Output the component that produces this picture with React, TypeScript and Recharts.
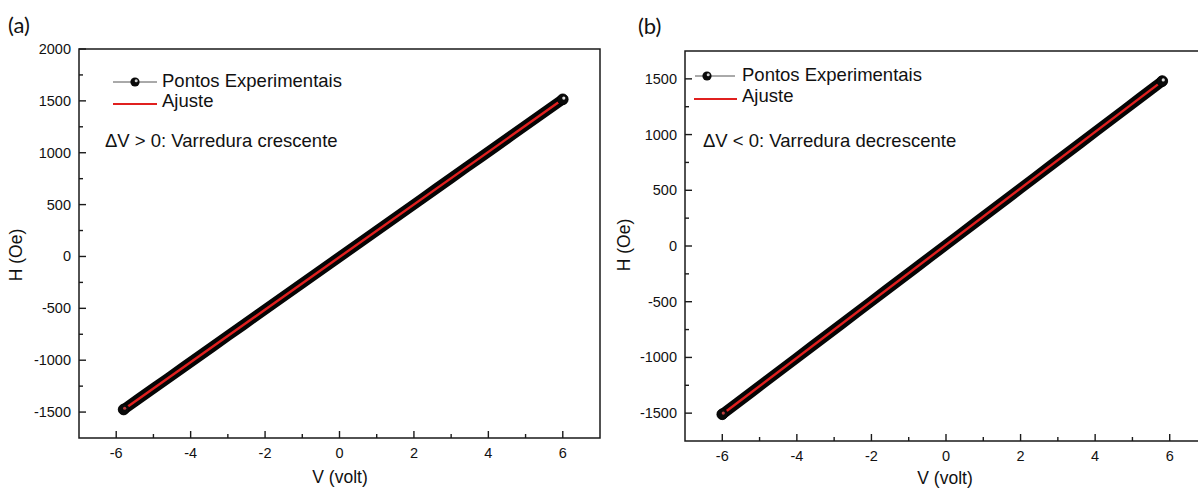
import React from 'react';
import { LineChart, Line, XAxis, YAxis, ReferenceArea } from 'recharts';

// (a) increasing sweep, (b) decreasing sweep
const voltsA = [-5.8, -5.4, -5.0, -4.6, -4.2, -3.8, -3.4, -3.0, -2.6, -2.2, -1.8, -1.4, -1.0, -0.6, -0.2, 0.2, 0.6, 1.0, 1.4, 1.8, 2.2, 2.6, 3.0, 3.4, 3.8, 4.2, 4.6, 5.0, 5.4, 5.8, 6.0];
const fieldA = [-1475, -1373, -1272, -1171, -1069, -968, -867, -765, -664, -562, -461, -360, -258, -157, -56, 46, 147, 248, 350, 451, 552, 654, 755, 857, 958, 1059, 1161, 1262, 1363, 1465, 1515];
const fitVoltsA = [-5.8, 6.0];
const fitFieldA = [-1475, 1515];

const voltsB = [-6.0, -5.6, -5.2, -4.8, -4.4, -4.0, -3.6, -3.2, -2.8, -2.4, -2.0, -1.6, -1.2, -0.8, -0.4, 0.0, 0.4, 0.8, 1.2, 1.6, 2.0, 2.4, 2.8, 3.2, 3.6, 4.0, 4.4, 4.8, 5.2, 5.6, 5.8];
const fieldB = [-1510, -1409, -1308, -1206, -1105, -1004, -902, -801, -700, -598, -497, -395, -294, -193, -91, 10, 111, 213, 314, 415, 517, 618, 720, 821, 922, 1024, 1125, 1226, 1328, 1429, 1480];
const fitVoltsB = [-6.0, 5.8];
const fitFieldB = [-1510, 1480];

const xTicks = [-6, -5, -4, -3, -2, -1, 0, 1, 2, 3, 4, 5, 6];
const yTicksA = [-1500, -1250, -1000, -750, -500, -250, 0, 250, 500, 750, 1000, 1250, 1500, 1750, 2000];
const yTicksB = [-1500, -1250, -1000, -750, -500, -250, 0, 250, 500, 750, 1000, 1250, 1500];

const AXIS = '#1a1a1a';
const RED = '#e0201f';
const FONT = '"Liberation Sans", Arial, sans-serif';

const isMajorX = (v: number) => v % 2 === 0;
const isMajorY = (v: number) => Math.abs(v) % 500 === 0;

const BottomTick = (props: any) => {
  const { x, y, payload } = props;
  const major = isMajorX(payload.value);
  return (
    <g>
      <line x1={x} x2={x} y1={y} y2={y - (major ? 7 : 4)} stroke={AXIS} strokeWidth={1.4} />
      {major && (
        <text x={x} y={y + 15} textAnchor="middle" dominantBaseline="central" fontSize={14.5} fontFamily={FONT} fill="#111">
          {payload.value}
        </text>
      )}
    </g>
  );
};

const TopTick = (props: any) => {
  const { x, y, payload } = props;
  const major = isMajorX(payload.value);
  return <line x1={x} x2={x} y1={y} y2={y + (major ? 7 : 4)} stroke={AXIS} strokeWidth={1.4} />;
};

const LeftTick = (props: any) => {
  const { x, y, payload } = props;
  const major = isMajorY(payload.value);
  return (
    <g>
      <line x1={x} x2={x + (major ? 7 : 4)} y1={y} y2={y} stroke={AXIS} strokeWidth={1.4} />
      {major && (
        <text x={x - 8} y={y} textAnchor="end" dominantBaseline="central" fontSize={14.5} fontFamily={FONT} fill="#111">
          {payload.value}
        </text>
      )}
    </g>
  );
};

const RightTick = (props: any) => {
  const { x, y, payload } = props;
  const major = isMajorY(payload.value);
  return <line x1={x} x2={x - (major ? 7 : 4)} y1={y} y2={y} stroke={AXIS} strokeWidth={1.4} />;
};

// dark sphere marker, drawn only at the two ends (the band hides the rest)
const makeDot = (last: number) => (props: any) => {
  const { cx, cy, index } = props;
  if (index !== 0 && index !== last) return <g key={`d-${index}`} />;
  return (
    <g key={`d-${index}`}>
      <circle cx={cx} cy={cy} r={5.4} fill="#0a0a0a" stroke="#000" strokeWidth={0.8} />
      <circle cx={cx + 1} cy={cy - 1.2} r={1.6} fill={index === 0 ? '#c04040' : '#e0e0e0'} />
    </g>
  );
};

const Sphere = ({ cx, cy }: { cx: number; cy: number }) => (
  <g>
    <circle cx={cx} cy={cy} r={4.6} fill="#0a0a0a" />
    <circle cx={cx + 1.2} cy={cy - 1.2} r={1.5} fill="#cfcfcf" />
  </g>
);

interface PanelProps {
  left: number;
  volts: number[];
  field: number[];
  fitVolts: number[];
  fitField: number[];
  yDomain: [number, number];
  yTicks: number[];
  top: number;
  plotRight: number;
  yAxisWidth: number;
  xAxisHeight: number;
  letter: string;
  letterX: number;
  letterY: number;
  note: string;
  legend: { lineX1: number; lineX2: number; sphereX: number; textX: number; y1: number; y2: number; redX1: number; redX2: number; noteX: number; noteY: number };
  yTitle: { x: number; y: number };
  xTitle: { x: number; y: number };
}

const W = 620;
const H = 490;

const Panel = (p: PanelProps) => {
  const exp = p.volts.map((v, i) => ({ v, h: p.field[i] }));
  const fit = p.fitVolts.map((v, i) => ({ v, h: p.fitField[i] }));
  const txt: React.CSSProperties = { position: 'absolute', fontFamily: FONT, color: '#111', whiteSpace: 'nowrap', lineHeight: 1 };
  const lg = p.legend;
  return (
    <div style={{ position: 'absolute', left: p.left, top: 0, width: W, height: H }}>
      <LineChart width={W} height={H} margin={{ top: p.top, right: W - p.plotRight, bottom: 0, left: 0 }}>
        <XAxis
          xAxisId={0}
          type="number"
          dataKey="v"
          domain={[-7, 7]}
          ticks={xTicks}
          allowDataOverflow
          height={p.xAxisHeight}
          axisLine={false}
          tickLine={false}
          tickSize={0}
          tickMargin={0}
          interval={0}
          tick={<BottomTick />}
        />
        <XAxis
          xAxisId="top"
          orientation="top"
          type="number"
          domain={[-7, 7]}
          ticks={xTicks}
          allowDataOverflow
          height={0}
          axisLine={false}
          tickLine={false}
          tickSize={0}
          tickMargin={0}
          interval={0}
          tick={<TopTick />}
        />
        <YAxis
          yAxisId={0}
          type="number"
          domain={p.yDomain}
          ticks={p.yTicks}
          allowDataOverflow
          width={p.yAxisWidth}
          axisLine={false}
          tickLine={false}
          tickSize={0}
          tickMargin={0}
          interval={0}
          tick={<LeftTick />}
        />
        <YAxis
          yAxisId="right"
          orientation="right"
          type="number"
          domain={p.yDomain}
          ticks={p.yTicks}
          allowDataOverflow
          width={0}
          axisLine={false}
          tickLine={false}
          tickSize={0}
          tickMargin={0}
          interval={0}
          tick={<RightTick />}
        />
        <ReferenceArea
          x1={-7}
          x2={7}
          y1={p.yDomain[0]}
          y2={p.yDomain[1]}
          fill="none"
          fillOpacity={0}
          stroke={AXIS}
          strokeWidth={1.5}
          ifOverflow="visible"
        />
        <Line
          data={exp}
          dataKey="h"
          type="linear"
          stroke="#050505"
          strokeWidth={10.5}
          strokeLinecap="round"
          dot={makeDot(exp.length - 1)}
          activeDot={false}
          isAnimationActive={false}
        />
        <Line data={fit} dataKey="h" type="linear" stroke={RED} strokeWidth={2.4} dot={false} activeDot={false} isAnimationActive={false} />
      </LineChart>

      <svg style={{ position: 'absolute', left: 0, top: 0 }} width={W} height={H} pointerEvents="none">
        <line x1={lg.lineX1} x2={lg.lineX2} y1={lg.y1} y2={lg.y1} stroke="#555" strokeWidth={1} />
        <Sphere cx={lg.sphereX} cy={lg.y1} />
        <line x1={lg.redX1} x2={lg.redX2} y1={lg.y2 + 2} y2={lg.y2 + 2} stroke={RED} strokeWidth={2} />
      </svg>
      <div style={{ ...txt, left: lg.textX, top: lg.y1 - 10, fontSize: 18.5 }}>Pontos Experimentais</div>
      <div style={{ ...txt, left: lg.textX, top: lg.y2 - 10, fontSize: 18.5 }}>Ajuste</div>
      <div style={{ ...txt, left: lg.noteX, top: lg.noteY - 10, fontSize: 18.5 }}>{p.note}</div>

      <div style={{ ...txt, left: p.letterX, top: p.letterY - 12, fontSize: 22, fontFamily: 'Lato, "Open Sans", sans-serif' }}>{p.letter}</div>
      <div style={{ ...txt, left: p.xTitle.x, top: p.xTitle.y - 9, fontSize: 17.5, transform: 'translateX(-50%)' }}>V (volt)</div>
      <div
        style={{
          ...txt,
          left: p.yTitle.x,
          top: p.yTitle.y,
          fontSize: 17.5,
          transform: 'translate(-50%, -50%) rotate(-90deg)',
        }}
      >
        H (Oe)
      </div>
    </div>
  );
};

export default function App() {
  return (
    <div style={{ position: 'fixed', left: 0, top: 0, width: 1198, height: 490, overflow: 'hidden', background: '#fff' }}>
      <Panel
        left={0}
        volts={voltsA}
        field={fieldA}
        fitVolts={fitVoltsA}
        fitField={fitFieldA}
        yDomain={[-1750, 2000]}
        yTicks={yTicksA}
        top={49}
        plotRight={600}
        yAxisWidth={79}
        xAxisHeight={52}
        letter="(a)"
        letterX={8}
        letterY={26}
        note="ΔV > 0: Varredura crescente"
        legend={{ lineX1: 113, lineX2: 157, sphereX: 135, textX: 162, y1: 82, y2: 102, redX1: 113, redX2: 157, noteX: 105, noteY: 142 }}
        yTitle={{ x: 17, y: 255 }}
        xTitle={{ x: 340, y: 478 }}
      />
      <Panel
        left={600}
        volts={voltsB}
        field={fieldB}
        fitVolts={fitVoltsB}
        fitField={fitFieldB}
        yDomain={[-1750, 1750]}
        yTicks={yTicksB}
        top={51}
        plotRight={607}
        yAxisWidth={85}
        xAxisHeight={49}
        letter="(b)"
        letterX={38}
        letterY={27}
        note="ΔV < 0: Varredura decrescente"
        legend={{ lineX1: 95, lineX2: 135, sphereX: 107, textX: 142, y1: 76, y2: 97, redX1: 94, redX2: 137, noteX: 103, noteY: 142 }}
        yTitle={{ x: 25, y: 245 }}
        xTitle={{ x: 345, y: 479 }}
      />
    </div>
  );
}
